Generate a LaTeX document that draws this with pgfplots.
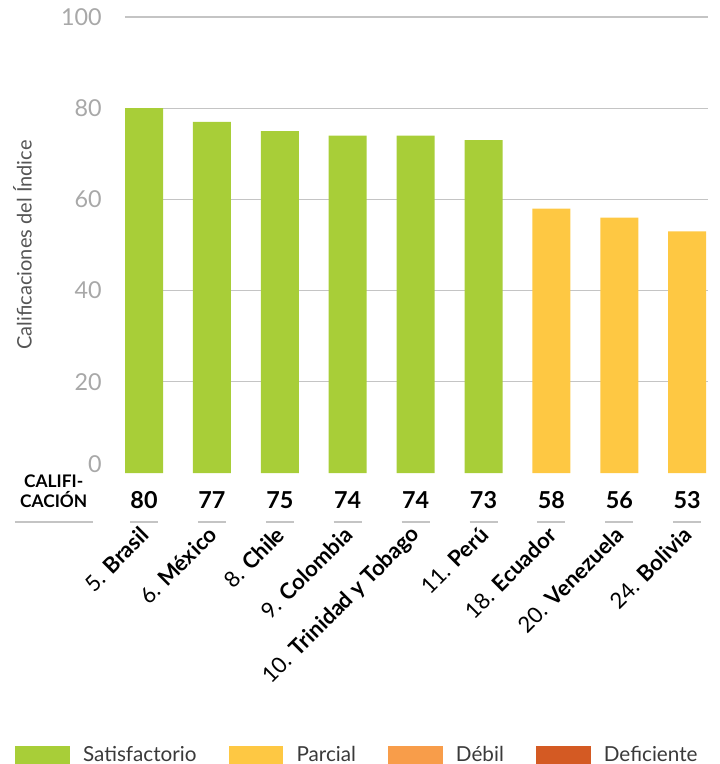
\documentclass[border=0pt]{standalone}
\usepackage{pgfplots}
\pgfplotsset{compat=1.18}
\usepackage{pgfplotstable}
\usepackage{fontspec}
\setmainfont{Lato}
\definecolor{sat}{HTML}{A8CE38}
\definecolor{par}{HTML}{FEC843}
\definecolor{deb}{HTML}{F89D4A}
\definecolor{def}{HTML}{D45A23}
\definecolor{gridc}{HTML}{C4C4C4}
\definecolor{tickc}{HTML}{A8A8A8}
\definecolor{labc}{HTML}{555555}
\definecolor{legc}{HTML}{3A3A3A}

\pgfplotstableread{
x v
0 80
1 77
2 75
3 74
4 74
5 73
}\satdata
\pgfplotstableread{
x v
6 58
7 56
8 53
}\pardata
\pgfplotstableread{
x v
0 80
1 77
2 75
3 74
4 74
5 73
6 58
7 56
8 53
}\alldata

\begin{document}
\begin{tikzpicture}
\useasboundingbox (-93.75pt,-218.25pt) rectangle (445.5pt,354.75pt);
\begin{axis}[
 at={(0,0)}, anchor=south west, scale only axis,
 width=437.25pt, height=342pt,
 xmin=-0.28, xmax=8.306, ymin=0, ymax=100,
 clip=false,
 /pgf/number format/assume math mode=true,
 axis line style={draw=none},
 major tick length=0pt,
 ytick={20,40,60,80,100},
 extra y ticks={0},
 extra y tick style={grid=none, yticklabel style={yshift=7pt}},
 ymajorgrids, grid style={gridc, line width=0.8pt},
 yticklabel style={font=\fontsize{17.5}{17.5}\selectfont, text=tickc, anchor=east, xshift=-14pt},
 xtick={0,...,8},
 xticklabels={{5. \textbf{Brasil}},{6. \textbf{México}},{8. \textbf{Chile}},{9. \textbf{Colombia}},{10. \textbf{Trinidad y Tobago}},{11. \textbf{Perú}},{18. \textbf{Ecuador}},{20. \textbf{Venezuela}},{24. \textbf{Bolivia}}},
 xticklabel style={font=\fontsize{16.5}{16.5}\selectfont, xshift=3pt, yshift=-41pt, rotate=45, anchor=east},
 ylabel={Calificaciones del Índice},
 every axis y label/.style={at={(rel axis cs:0,0.5)}, xshift=-77pt, rotate=90, anchor=center, font=\fontsize{15}{15}\selectfont, text=labc},
 legend columns=4,
 legend style={at={(rel axis cs:-0.189,-0.618)}, anchor=west, draw=none, fill=none, inner sep=0pt, font=\fontsize{15.5}{15.5}\selectfont, text=legc, /tikz/every even column/.append style={column sep=20pt}, /tikz/every odd column/.append style={column sep=6pt}, nodes={inner sep=4pt}},
 legend image code/.code={\fill[#1] (0pt,-6.8pt) rectangle (41pt,6.8pt);},
]
\addplot[ybar, bar width=28.5pt, bar shift=0pt, fill=sat, draw=none] table[x=x, y=v] {\satdata};
\addlegendentry{Satisfactorio}
\addplot[ybar, bar width=28.5pt, bar shift=0pt, fill=par, draw=none] table[x=x, y=v] {\pardata};
\addlegendentry{Parcial}
\addlegendimage{fill=deb, draw=none}
\addlegendentry{Débil}
\addlegendimage{fill=def, draw=none}
\addlegendentry{Deficiente}
\addplot[draw=none, mark=none, forget plot, nodes near coords, point meta=explicit,
  nodes near coords style={font=\bfseries\fontsize{17.5}{17.5}\selectfont, anchor=center, text=black}]
  table[x=x, y expr=-5.9, meta=v] {\alldata};
\pgfplotsinvokeforeach{0,...,8}{
  \draw[gridc, line width=0.9pt] (axis cs:#1-0.206,-10.75) -- (axis cs:#1+0.206,-10.75);
}
\draw[gridc, line width=0.9pt] (axis cs:-1.90,-10.75) -- (axis cs:-0.75,-10.75);
\node[align=center, font=\bfseries\fontsize{13}{15}\selectfont] at (axis cs:-1.33,-3.95) {CALIFI-\\CACIÓN};
\end{axis}
\end{tikzpicture}
\end{document}
